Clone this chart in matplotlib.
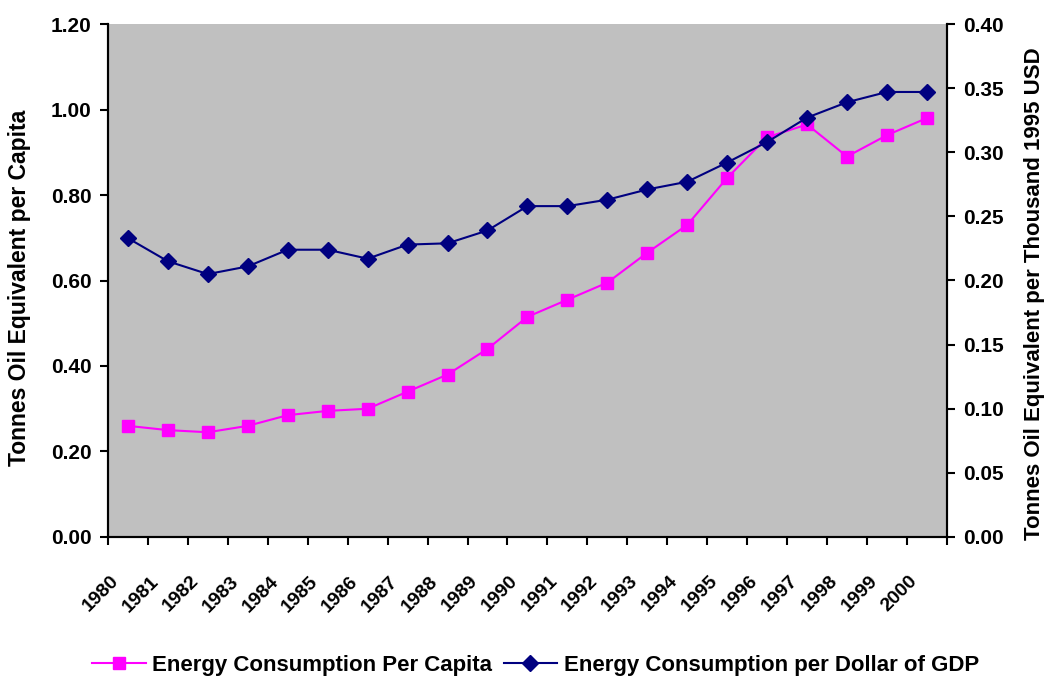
import matplotlib
matplotlib.use("Agg")
import matplotlib.pyplot as plt
import numpy as np

# Datos
anios = [str(a) for a in range(1980, 2001)]
per_capita = [0.26, 0.25, 0.245, 0.26, 0.285, 0.295, 0.30, 0.34, 0.38, 0.44, 0.515,
              0.555, 0.595, 0.665, 0.73, 0.84, 0.935, 0.965, 0.89, 0.94, 0.98]
per_gdp = [0.233, 0.215, 0.205, 0.211, 0.224, 0.224, 0.217, 0.228, 0.229, 0.239, 0.258,
           0.258, 0.263, 0.271, 0.277, 0.292, 0.308, 0.327, 0.339, 0.347, 0.347]

plt.rcParams['font.family'] = ['Liberation Sans', 'DejaVu Sans']
plt.rcParams['font.weight'] = 'bold'

fig = plt.figure(figsize=(10.44, 6.8), dpi=100)
ax = fig.add_axes([0.1034, 0.2103, 0.8036, 0.7544])
ax2 = ax.twinx()

x = np.arange(len(anios))
l1, = ax.plot(x, per_capita, color='#ff00ff', lw=1.5, marker='s', markersize=8.5,
              markerfacecolor='#ff00ff', markeredgecolor='#ff00ff',
              label='Energy Consumption Per Capita')
l2, = ax2.plot(x, per_gdp, color='#000080', lw=1.5, marker='D', markersize=8,
               markerfacecolor='#000080', markeredgecolor='#000080',
               label='Energy Consumption per Dollar of GDP')

ax.set_facecolor('#c0c0c0')
ax.set_xlim(-0.5, len(anios) - 0.5)
ax.set_ylim(0, 1.2)
ax2.set_ylim(0, 0.4)
ax.set_yticks(np.arange(0, 1.21, 0.2))
ax.set_yticklabels([f'{v:.2f}' for v in np.arange(0, 1.21, 0.2)], fontsize=15, fontweight='bold')
ax2.set_yticks(np.arange(0, 0.41, 0.05))
ax2.set_yticklabels([f'{v:.2f}' for v in np.arange(0, 0.41, 0.05)], fontsize=15, fontweight='bold')

# marcas entre categorias; etiquetas algo a la izquierda del centro (como en Excel)
ax.set_xticks(np.arange(-0.5, len(anios), 1))
ax.set_xticklabels([])
ax.set_xticks(x - 0.3, minor=True)
ax.set_xticklabels(anios, minor=True, rotation=45, ha='right', va='center',
                   rotation_mode='anchor', fontsize=14, fontweight='bold')
ax.tick_params(axis='x', which='minor', length=0, pad=30)
ax.tick_params(axis='x', which='major', length=6, width=1.5, direction='out')
ax.tick_params(axis='y', length=6, width=1.5, direction='out', pad=6)
ax2.tick_params(axis='y', length=6, width=1.5, direction='out', pad=6)

for a in (ax, ax2):
    a.spines['top'].set_visible(False)
    for s in ('left', 'right', 'bottom'):
        a.spines[s].set_linewidth(1.5)

ax.set_ylabel('Tonnes Oil Equivalent per Capita', fontsize=16.5, fontweight='bold')
ax2.set_ylabel('Tonnes Oil Equivalent per Thousand 1995 USD', fontsize=16, fontweight='bold')
ax.yaxis.set_label_coords(-0.092, 0.485)
ax2.yaxis.set_label_coords(1.092, 0.475)

fig.legend(handles=[l1, l2], loc='center', bbox_to_anchor=(0.513, 0.022), ncol=2,
           frameon=False, prop={'size': 16, 'weight': 'bold'}, handlelength=2.4,
           columnspacing=0.5, handletextpad=0.3)

plt.savefig('out.png', dpi=100)
